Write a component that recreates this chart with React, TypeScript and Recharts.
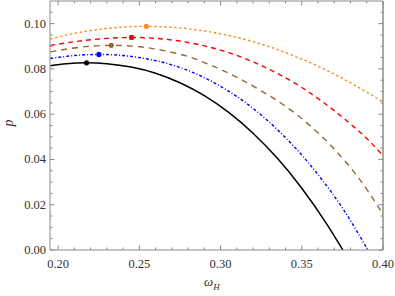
import { ComposedChart, Line, Scatter, Cell, XAxis, YAxis, ReferenceLine } from "recharts"

// ── data ─────────────────────────────────────────────────────
const black = [
  { w: 0.1952, p: 0.0814 },
  { w: 0.205, p: 0.0823 },
  { w: 0.2175, p: 0.0827 },
  { w: 0.23, p: 0.0823 },
  { w: 0.245, p: 0.0808 },
  { w: 0.26, p: 0.0781 },
  { w: 0.275, p: 0.0739 },
  { w: 0.29, p: 0.0682 },
  { w: 0.305, p: 0.0608 },
  { w: 0.32, p: 0.0516 },
  { w: 0.335, p: 0.0405 },
  { w: 0.35, p: 0.0273 },
  { w: 0.365, p: 0.0119 },
  { w: 0.3753, p: 0.0 },
]

const blue = [
  { w: 0.1952, p: 0.0846 },
  { w: 0.21, p: 0.0859 },
  { w: 0.2251, p: 0.0864 },
  { w: 0.24, p: 0.0859 },
  { w: 0.255, p: 0.0844 },
  { w: 0.27, p: 0.0818 },
  { w: 0.285, p: 0.0778 },
  { w: 0.3, p: 0.0723 },
  { w: 0.315, p: 0.0653 },
  { w: 0.33, p: 0.0565 },
  { w: 0.345, p: 0.0459 },
  { w: 0.36, p: 0.0333 },
  { w: 0.375, p: 0.0186 },
  { w: 0.3907, p: 0.0 },
]

const brown = [
  { w: 0.1952, p: 0.0875 },
  { w: 0.215, p: 0.0897 },
  { w: 0.2327, p: 0.0904 },
  { w: 0.25, p: 0.0898 },
  { w: 0.265, p: 0.0881 },
  { w: 0.28, p: 0.0855 },
  { w: 0.295, p: 0.0813 },
  { w: 0.31, p: 0.0763 },
  { w: 0.325, p: 0.0703 },
  { w: 0.34, p: 0.0635 },
  { w: 0.355, p: 0.055 },
  { w: 0.37, p: 0.0446 },
  { w: 0.385, p: 0.0318 },
  { w: 0.4, p: 0.0158 },
]

const red = [
  { w: 0.1952, p: 0.0904 },
  { w: 0.21, p: 0.092 },
  { w: 0.225, p: 0.0932 },
  { w: 0.2452, p: 0.0939 },
  { w: 0.26, p: 0.0935 },
  { w: 0.275, p: 0.0923 },
  { w: 0.29, p: 0.0902 },
  { w: 0.305, p: 0.0872 },
  { w: 0.32, p: 0.0831 },
  { w: 0.335, p: 0.078 },
  { w: 0.35, p: 0.0718 },
  { w: 0.365, p: 0.0643 },
  { w: 0.38, p: 0.0557 },
  { w: 0.39, p: 0.0493 },
  { w: 0.4, p: 0.0417 },
]

const orange = [
  { w: 0.1952, p: 0.0932 },
  { w: 0.21, p: 0.0957 },
  { w: 0.225, p: 0.0974 },
  { w: 0.24, p: 0.0985 },
  { w: 0.2543, p: 0.0988 },
  { w: 0.27, p: 0.0984 },
  { w: 0.285, p: 0.0973 },
  { w: 0.3, p: 0.0955 },
  { w: 0.315, p: 0.093 },
  { w: 0.33, p: 0.0898 },
  { w: 0.345, p: 0.0858 },
  { w: 0.36, p: 0.0812 },
  { w: 0.375, p: 0.0758 },
  { w: 0.39, p: 0.0697 },
  { w: 0.4, p: 0.0655 },
]

// maxima marked with a dot
const peaks = [
  { w: 0.2175, p: 0.0827 },
  { w: 0.2251, p: 0.0864 },
  { w: 0.2327, p: 0.0904 },
  { w: 0.2452, p: 0.0939 },
  { w: 0.2543, p: 0.0988 },
]
const peakColors = ["#000000", "#0000ff", "#996633", "#ff0000", "#ff8c1a"]

const X_MIN = 0.195
const X_MAX = 0.4
const Y_MIN = 0
const Y_MAX = 0.11

const X_MAJOR = [0.2, 0.25, 0.3, 0.35, 0.4]
const X_TICKS = [
  0.2, 0.21, 0.22, 0.23, 0.24, 0.25, 0.26, 0.27, 0.28, 0.29, 0.3,
  0.31, 0.32, 0.33, 0.34, 0.35, 0.36, 0.37, 0.38, 0.39, 0.4,
]
const Y_MAJOR = [0, 0.02, 0.04, 0.06, 0.08, 0.1]
const Y_TICKS = [
  0, 0.005, 0.01, 0.015, 0.02, 0.025, 0.03, 0.035, 0.04, 0.045, 0.05,
  0.055, 0.06, 0.065, 0.07, 0.075, 0.08, 0.085, 0.09, 0.095, 0.1, 0.105,
]

// chart box
const W = 395
const H = 296
const M = { top: 1, right: 12, left: 0, bottom: 0 }
const X_AXIS_H = 46
const Y_AXIS_W = 50
const PLOT_TOP = M.top
const PLOT_RIGHT = W - M.right

const FRAME = "#8a8a8a"
const FONT = "'Liberation Serif', 'DejaVu Serif', 'Times New Roman', serif"

const isMajor = (v: number, majors: number[]) => majors.some((m) => Math.abs(m - v) < 1e-9)

// Mathematica-style frame ticks: pointing inward on all four sides,
// labels only on bottom/left. The opposite side's tick is mirrored here.
const BottomTick = (props: any) => {
  const { x, y, payload } = props
  const v = payload.value as number
  const major = isMajor(v, X_MAJOR)
  const len = major ? 4.5 : 2.5
  return (
    <g>
      <line x1={x} y1={y} x2={x} y2={y - len} stroke={FRAME} strokeWidth={1} />
      <line x1={x} y1={PLOT_TOP} x2={x} y2={PLOT_TOP + len} stroke={FRAME} strokeWidth={1} />
      {major && (
        <text x={x} y={y + 18} textAnchor="middle" fontFamily={FONT} fontSize={12.5} fill="#333">
          {v.toFixed(2)}
        </text>
      )}
    </g>
  )
}

const LeftTick = (props: any) => {
  const { x, y, payload } = props
  const v = payload.value as number
  const major = isMajor(v, Y_MAJOR)
  const len = major ? 4.5 : 2.5
  return (
    <g>
      <line x1={x} y1={y} x2={x + len} y2={y} stroke={FRAME} strokeWidth={1} />
      <line x1={PLOT_RIGHT} y1={y} x2={PLOT_RIGHT - len} y2={y} stroke={FRAME} strokeWidth={1} />
      {major && (
        <text x={x - 4} y={y + 4} textAnchor="end" fontFamily={FONT} fontSize={12.5} fill="#333">
          {v.toFixed(2)}
        </text>
      )}
    </g>
  )
}

const PeakDot = (props: any) => <circle cx={props.cx} cy={props.cy} r={2.6} fill={props.fill} />

export default function App() {
  return (
    <div style={{ position: "absolute", left: 0, top: 0, width: W, height: H, background: "#fff" }}>
      <ComposedChart width={W} height={H} margin={M}>
        <XAxis
          dataKey="w"
          type="number"
          domain={[X_MIN, X_MAX]}
          ticks={X_TICKS}
          interval={0}
          height={X_AXIS_H}
          tickSize={0}
          tickMargin={0}
          tickLine={false}
          axisLine={{ stroke: FRAME, strokeWidth: 1 }}
          tick={BottomTick}
          allowDataOverflow
        />
        <YAxis
          dataKey="p"
          type="number"
          domain={[Y_MIN, Y_MAX]}
          ticks={Y_TICKS}
          interval={0}
          width={Y_AXIS_W}
          tickSize={0}
          tickMargin={0}
          tickLine={false}
          axisLine={{ stroke: FRAME, strokeWidth: 1 }}
          tick={LeftTick}
          allowDataOverflow
        />
        {/* top and right sides of the frame */}
        <ReferenceLine y={Y_MAX} stroke={FRAME} strokeWidth={1} ifOverflow="visible" />
        <ReferenceLine x={X_MAX} stroke={FRAME} strokeWidth={1.5} ifOverflow="visible" />
        <Line data={black} dataKey="p" type="monotone" stroke="#000" strokeWidth={1.5} dot={false} isAnimationActive={false} />
        <Line data={blue} dataKey="p" type="monotone" stroke="#0000ff" strokeWidth={1.4} strokeDasharray="3 2 1 2" dot={false} isAnimationActive={false} />
        <Line data={brown} dataKey="p" type="monotone" stroke="#996633" strokeWidth={1.4} strokeDasharray="6 5" dot={false} isAnimationActive={false} />
        <Line data={red} dataKey="p" type="monotone" stroke="#ff0000" strokeWidth={1.4} strokeDasharray="5 4" dot={false} isAnimationActive={false} />
        <Line data={orange} dataKey="p" type="monotone" stroke="#ff8c1a" strokeWidth={1.4} strokeDasharray="2.5 2.5" dot={false} isAnimationActive={false} />
        <Scatter data={peaks} dataKey="p" shape={PeakDot} isAnimationActive={false}>
          {peaks.map((_, i) => (
            <Cell key={`peak-${i}`} fill={peakColors[i]} />
          ))}
        </Scatter>
      </ComposedChart>
      <div
        style={{
          position: "absolute",
          left: 5,
          top: 115,
          fontFamily: FONT,
          fontStyle: "italic",
          fontSize: 14,
          color: "#333",
          transform: "rotate(-90deg)",
        }}
      >
        p
      </div>
      <div
        style={{
          position: "absolute",
          left: 204,
          top: 274,
          fontFamily: FONT,
          fontStyle: "italic",
          fontSize: 13,
          color: "#333",
        }}
      >
        ω<sub style={{ fontSize: 9 }}>H</sub>
      </div>
    </div>
  )
}
